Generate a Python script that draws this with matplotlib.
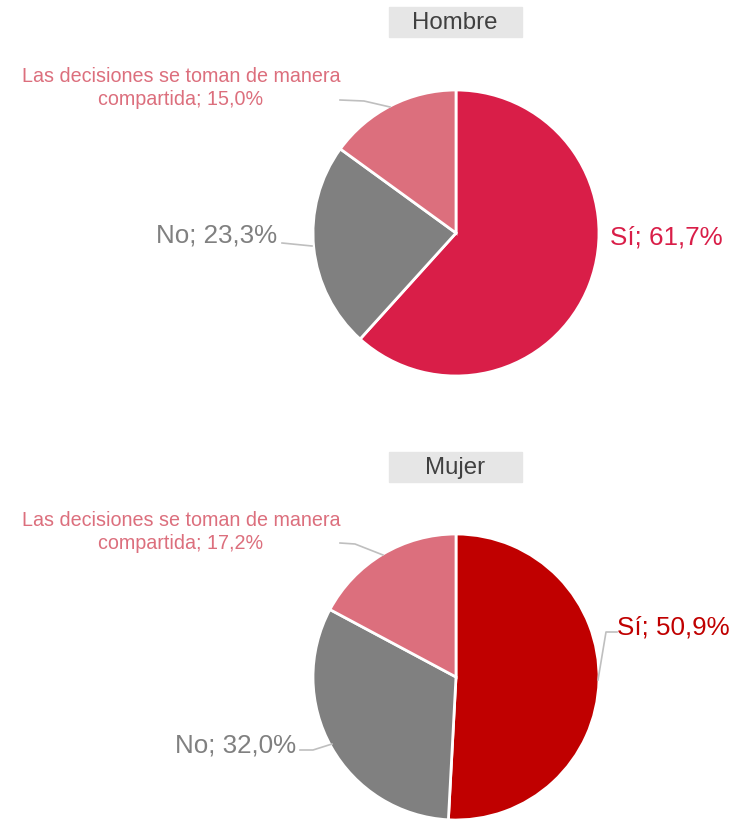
import matplotlib.pyplot as plt
from matplotlib.patches import Rectangle

plt.rcParams['font.family'] = ['Liberation Sans', 'DejaVu Sans']

W, H = 740, 819

groups = ['Hombre', 'Mujer']
categories = ['Sí', 'No', 'Las decisiones se toman de manera\ncompartida']
values_hombre = [61.7, 23.3, 15.0]
values_mujer = [50.9, 32.0, 17.2]

si_colors = ['#D91E48', '#C00000']
GREY = '#808080'
PINK = '#DC6F7D'


def fmt(v):
    return ('%.1f%%' % v).replace('.', ',')


fig = plt.figure(figsize=(W / 100, H / 100), dpi=100)
ax = fig.add_axes([0, 0, 1, 1])


def py(y):
    # pixel row (from top) to data y
    return H - y


def draw(values, si_col, title, cy, title_y, lab, lines):
    cx, r = 456, 143
    ax.pie(values, colors=[si_col, GREY, PINK], startangle=90, counterclock=False,
           center=(cx, py(cy)), radius=r,
           wedgeprops=dict(edgecolor='white', linewidth=2))
    ax.add_patch(Rectangle((389, py(title_y + 15)), 133, 30, color='#E6E6E6', zorder=3))
    ax.text(455, py(title_y + 1), title, ha='center', va='center', fontsize=17.3,
            color='#404040', zorder=4)
    cols = [si_col, GREY, PINK]
    for i, (x, y, ha, fs) in enumerate(lab):
        name = categories[i]
        ax.text(x, py(y), '%s; %s' % (name, fmt(values[i])), ha=ha, va='center',
                fontsize=fs, color=cols[i], multialignment='center', linespacing=1.3)
    for xs, ys in lines:
        ax.plot(xs, [py(v) for v in ys], color='#BFBFBF', lw=1.2)


draw(values_hombre, si_colors[0], groups[0], 233, 22,
     [(610, 238, 'left', 18.7), (277, 236, 'right', 18.7), (181, 88, 'center', 14.2)],
     [([282, 312], [243, 246]), ([340, 364, 390], [100, 101, 107])])

draw(values_mujer, si_colors[1], groups[1], 677, 467,
     [(617, 627, 'left', 18.7), (296, 745, 'right', 18.7), (181, 532, 'center', 14.2)],
     [([598, 606, 617], [680, 632, 632]), ([300, 313, 332], [750, 750, 744]),
      ([340, 355, 383], [543, 544, 555])])

ax.set_xlim(0, W)
ax.set_ylim(0, H)
ax.set_aspect('equal')
ax.axis('off')

fig.savefig('out.png', dpi=100)
